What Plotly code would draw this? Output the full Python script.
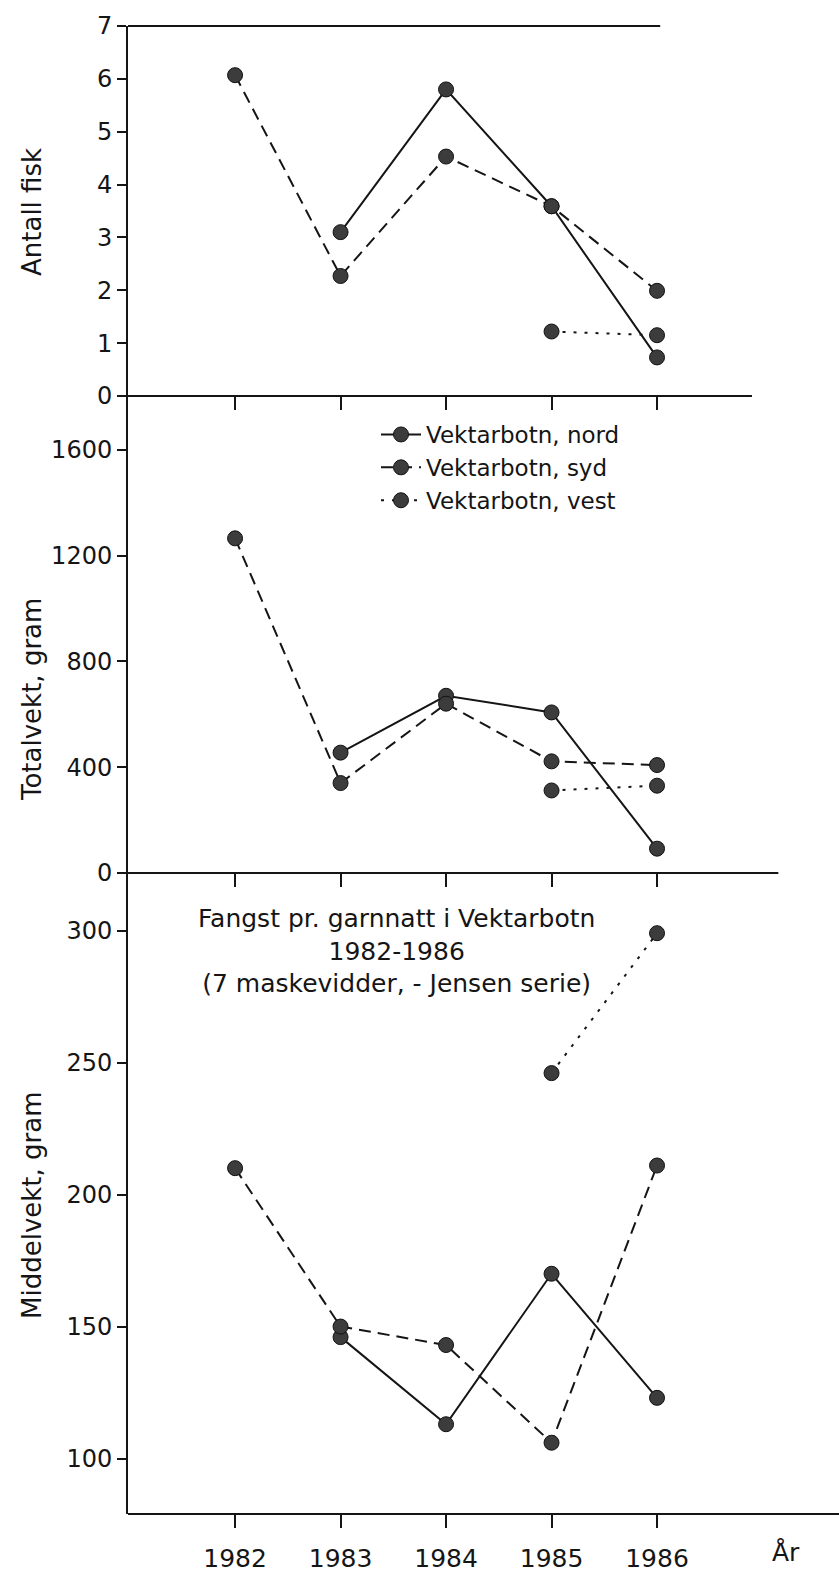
import plotly.graph_objects as go

years = [1982, 1983, 1984, 1985, 1986]

antall_nord = [None, 3.10, 5.80, 3.59, 0.73]
antall_syd = [6.07, 2.27, 4.53, 3.59, 1.99]
antall_vest = [None, None, None, 1.22, 1.15]

total_nord = [None, 455, 670, 607, 92]
total_syd = [1265, 340, 640, 422, 408]
total_vest = [None, None, None, 312, 330]

middel_nord = [None, 146, 113, 170, 123]
middel_syd = [210, 150, 143, 106, 211]
middel_vest = [None, None, None, 246, 299]

series_names = ["Vektarbotn, nord", "Vektarbotn, syd", "Vektarbotn, vest"]
dashes = ["solid", "12px,7px", "3px,8px"]

x_tick_labels = ["1982", "1983", "1984", "1985", "1986"]

W, H = 839, 1572
L, R, T, B = 128, 0, 26, 58
plot_h = H - T - B
def py(pix):
    return (H - B - pix) / plot_h
def px(pix):
    return (pix - L) / (W - L - R)

INK = "#151515"
MARK = "#3c3c3c"
FONT = "DejaVu Sans, Liberation Sans, sans-serif"

fig = go.Figure()

panels = [
    ("x", "y", [antall_nord, antall_syd, antall_vest]),
    ("x2", "y2", [total_nord, total_syd, total_vest]),
    ("x3", "y3", [middel_nord, middel_syd, middel_vest]),
]
for pi, (xa, ya, data) in enumerate(panels):
    for si, vals in enumerate(data):
        fig.add_trace(go.Scatter(
            x=years, y=vals, xaxis=xa, yaxis=ya,
            mode="lines+markers",
            name=series_names[si],
            showlegend=(pi == 1),
            line=dict(color=INK, width=2, dash=dashes[si]),
            marker=dict(size=15, color=MARK, line=dict(color="#111", width=1)),
        ))

xr = [1980.985, 1987.725]
d_top = [py(396), 1]
d_mid = [py(873), py(396)]
d_bot = [0, py(873)]

common_x = dict(range=xr, showgrid=False, zeroline=False, showline=False,
                tickmode="array", tickvals=years, ticks="outside", ticklen=13,
                tickwidth=2, tickcolor=INK)
common_y = dict(showgrid=False, zeroline=False, showline=True, linecolor=INK,
                linewidth=2, ticks="outside", ticklen=9, tickwidth=2,
                tickcolor=INK, tickfont=dict(size=24, color=INK, family=FONT))

fig.update_layout(
    width=W, height=H,
    margin=dict(l=L, r=R, t=T, b=B),
    paper_bgcolor="white", plot_bgcolor="white",
    font=dict(family=FONT, color=INK, size=24),
    xaxis=dict(**common_x, anchor="y", showticklabels=False),
    xaxis2=dict(**common_x, anchor="y2", showticklabels=False),
    xaxis3=dict(**common_x, anchor="y3", ticktext=x_tick_labels,
                tickfont=dict(size=25, color=INK, family=FONT),
                ticklabelstandoff=9),
    yaxis=dict(**common_y, domain=d_top, range=[0, 7], dtick=1, anchor="x"),
    yaxis2=dict(**common_y, domain=d_mid, range=[0, 1803],
                tickvals=[0, 400, 800, 1200, 1600], anchor="x2"),
    yaxis3=dict(**common_y, domain=d_bot, range=[79, 321.8],
                tickvals=[100, 150, 200, 250, 300], anchor="x3"),
    legend=dict(x=px(376), y=py(413), xanchor="left", yanchor="top",
                font=dict(size=23, color=INK, family=FONT),
                bgcolor="rgba(0,0,0,0)", itemwidth=40, tracegroupgap=0),
    showlegend=True,
)

# horizontal axis lines of each panel
line_style = dict(color=INK, width=2)
fig.add_shape(type="line", xref="x", yref="y domain", x0=xr[0], x1=1986.03,
              y0=1, y1=1, line=line_style)
fig.add_shape(type="line", xref="x", yref="y domain", x0=xr[0], x1=1986.9,
              y0=0, y1=0, line=line_style)
fig.add_shape(type="line", xref="x2", yref="y2 domain", x0=xr[0], x1=1987.15,
              y0=0, y1=0, line=line_style)
fig.add_shape(type="line", xref="x3", yref="y3 domain", x0=xr[0], x1=xr[1],
              y0=0, y1=0, line=line_style)

# axis titles
for text, yc in [("Antall fisk", 212), ("Totalvekt, gram", 700),
                 ("Middelvekt, gram", 1205)]:
    fig.add_annotation(text=text, xref="paper", yref="paper",
                       x=px(32), y=py(yc), xanchor="center", yanchor="middle",
                       textangle=-90, showarrow=False,
                       font=dict(size=26, color=INK, family=FONT))

fig.add_annotation(text="Fangst pr. garnnatt i Vektarbotn<br>1982-1986<br>(7 maskevidder, - Jensen serie)",
                   xref="paper", yref="paper", x=px(396), y=py(951),
                   xanchor="center", yanchor="middle", showarrow=False,
                   font=dict(size=25, color=INK, family=FONT))

fig.add_annotation(text="År", xref="paper", yref="paper", x=px(786), y=py(1553),
                   xanchor="center", yanchor="middle", showarrow=False,
                   font=dict(size=25, color=INK, family=FONT))

fig.write_html("out.html", config={"displayModeBar": False},
               post_script="document.body.style.margin='0px';")
